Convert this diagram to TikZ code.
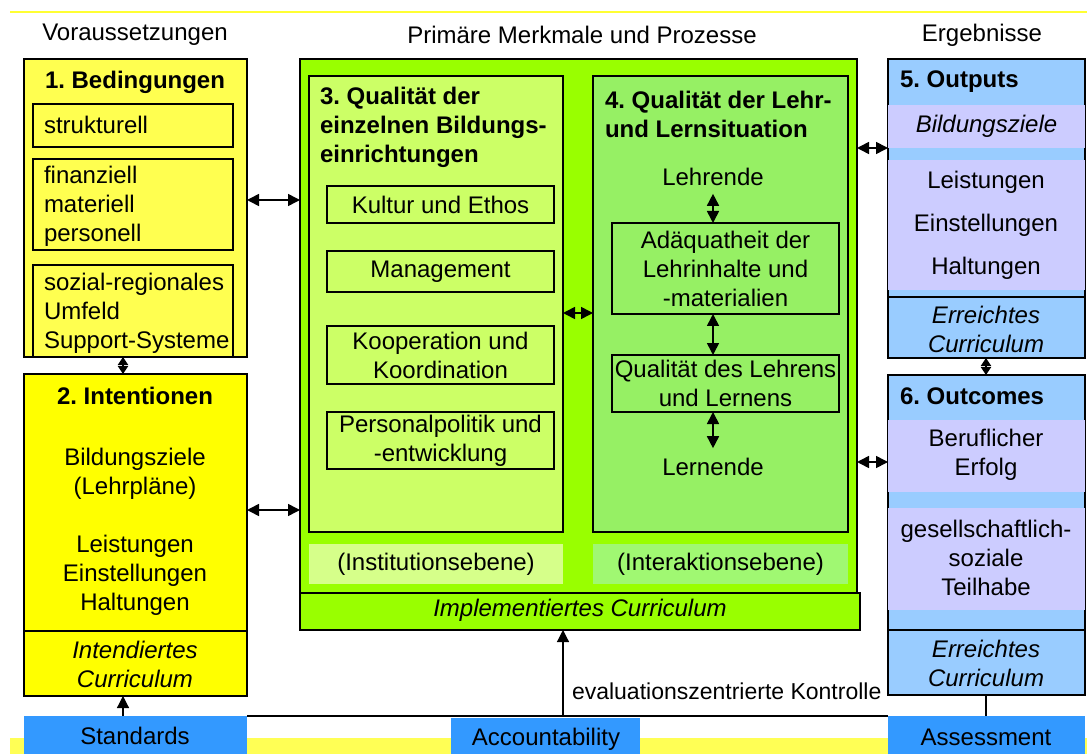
\documentclass[tikz,border=0pt]{standalone}
\usepackage{fontspec}
\setmainfont{Liberation Sans}
\frenchspacing
\usetikzlibrary{fit,arrows.meta}
\definecolor{yA}{HTML}{FFFF50}
\definecolor{yB}{HTML}{FFFF00}
\definecolor{gO}{HTML}{99FF00}
\definecolor{gC}{HTML}{CCFF66}
\definecolor{gCL}{HTML}{D6FF8A}
\definecolor{gD}{HTML}{96F064}
\definecolor{gDL}{HTML}{A0F872}
\definecolor{bL}{HTML}{99CCFF}
\definecolor{lav}{HTML}{CCCCFF}
\definecolor{bD}{HTML}{3399FF}
\definecolor{yLine}{HTML}{FFFF33}
\definecolor{yBand}{HTML}{FFFF55}
\begin{document}
\begin{tikzpicture}[x=0.5pt,y=-0.5pt,
  every node/.style={inner sep=0pt, outer sep=0pt},
  txt/.style={font=\fontsize{12}{14.5}\selectfont, align=center},
  bft/.style={font=\bfseries\fontsize{12}{14.5}\selectfont, align=left},
  itt/.style={font=\itshape\fontsize{12}{14.5}\selectfont, align=center},
  box/.style={draw=black, line width=0.8pt},
  plain/.style={line width=0.6pt},
  dbl/.style={{Triangle[length=6pt,width=6pt]}-{Triangle[length=6pt,width=6pt]}, line width=0.8pt},
  dbls/.style={{Triangle[length=4pt,width=5pt]}-{Triangle[length=4pt,width=5pt]}, line width=1.2pt},
  arr/.style={-{Triangle[length=6pt,width=6pt]}, line width=0.6pt}]
\useasboundingbox (0,0) rectangle (1087,754);
% helper coordinates
\coordinate (x123) at (123,0);
\coordinate (x713) at (713,0);
\coordinate (x986) at (986,0);
\coordinate (y200) at (0,200);
\coordinate (y510) at (0,510);
\coordinate (y313) at (0,313);
\coordinate (y148) at (0,148);
\coordinate (y462) at (0,462);
\coordinate (y631) at (0,631);
\coordinate (y297) at (0,297);
\coordinate (y630) at (0,630);
% decorative bands
\node[fill=yLine, fit={(10,11)(1087,13)}] (topline) {};
\node[fill=yBand, fit={(10,738)(1087,754)}] (bband) {};
% headers
\node[txt] (h1) at (135,35) {Voraussetzungen};
\node[txt] (h2) at (582,35) {Primäre Merkmale und Prozesse};
\node[txt] (h3) at (982,35) {Ergebnisse};
% Box 1
\node[box, fill=yA, fit={(24,59)(247,357)}] (b1) {};
\node[bft] (b1t) at (135,82) {1. Bedingungen};
\node[box, fill=yA, fit={(33,104)(233,147)}] (b1a) {};
\node[txt, anchor=west] (b1at) at (44,125) {strukturell};
\node[box, fill=yA, fit={(33,159)(233,250)}] (b1b) {};
\node[txt, align=left, anchor=west] (b1bt) at (44,206) {finanziell\\materiell\\personell};
\node[box, fill=yA, fit={(33,265)(233,357)}] (b1c) {};
\node[txt, align=left, anchor=west] (b1ct) at (44,313) {sozial-regionales\\Umfeld\\Support-Systeme};
% Box 2
\node[box, fill=yB, fit={(24,374)(247,696)}] (b2) {};
\draw[box] (b2.west |- y631) -- (b2.east |- y631);
\node[bft] (b2t) at (135,396) {2. Intentionen};
\node[txt] (b2x) at (135,474) {Bildungsziele\\(Lehrpläne)};
\node[txt] (b2y) at (135,575) {Leistungen\\Einstellungen\\Haltungen};
\node[itt] (b2z) at (135,664) {Intendiertes\\Curriculum};
\draw[dbls] (b1.south -| x123) -- (b2.north -| x123);
% Standards
\node[fill=bD, fit={(24,716)(247,754)}] (std) {};
\node[txt] (stdt) at (135,736) {Standards};
\draw[arr] (std.north -| x123) -- (b2.south -| x123);
% Green outer
\node[box, fill=gO, fit={(300,59)(857,630)}] (green) {};
\node[box, fill=gO, fit={(300,593)(860,630)}] (impl) {};
\node[itt] (implt) at (580,610) {Implementiertes Curriculum};
% Box 3
\node[box, fill=gC, fit={(309,76)(563,532)}] (b3) {};
\node[bft, anchor=west] (b3t) at (320,127) {3. Qualität der\\einzelnen Bildungs-\\einrichtungen};
\node[box, fill=gC, fit={(327,186)(554,223)}] (k1) {};
\node[txt] at (k1) {Kultur und Ethos};
\node[box, fill=gC, fit={(327,251)(554,292)}] (k2) {};
\node[txt] at (k2) {Management};
\node[box, fill=gC, fit={(327,326)(554,384)}] (k3) {};
\node[txt] at (k3) {Kooperation und\\Koordination};
\node[box, fill=gC, fit={(327,412)(554,469)}] (k4) {};
\node[txt] at (k4) {Personalpolitik und\\-entwicklung};
\node[fill=gCL, fit={(309,544)(563,584)}] (inst) {};
\node[txt] at (inst) {(Institutionsebene)};
% Box 4
\node[box, fill=gD, fit={(593,76)(848,532)}] (b4) {};
\node[bft, anchor=west] (b4t) at (605,114) {4. Qualität der Lehr-\\und Lernsituation};
\node[txt] (lehr) at (713,177) {Lehrende};
\node[box, fill=gD, fit={(612,223)(839,314)}] (adq) {};
\node[txt] at (adq) {Adäquatheit der\\Lehrinhalte und\\-materialien};
\node[box, fill=gD, fit={(612,355)(839,412)}] (qual) {};
\node[txt] at (qual) {Qualität des Lehrens\\und Lernens};
\node[txt] (lern) at (713,467) {Lernende};
\node[fill=gDL, fit={(593,544)(848,584)}] (inter) {};
\node[txt] at (inter) {(Interaktionsebene)};
\draw[dbl, shorten <=4pt] (lehr.south) -- (adq.north -| x713);
\draw[dbl] (adq.south -| x713) -- (qual.north -| x713);
\draw[dbl, shorten >=5pt] (qual.south -| x713) -- (lern.north);
% horizontal connectors
\draw[dbl] (b1.east |- y200) -- (green.west |- y200);
\draw[dbl] (b2.east |- y510) -- (green.west |- y510);
\draw[dbl] (b3.east |- y313) -- (b4.west |- y313);
% Box 5
\node[box, fill=bL, fit={(888,59)(1085,358)}] (b5) {};
\node[bft, anchor=west] (b5t) at (900,82) {5. Outputs};
\node[fill=lav, fit={(888,105)(1085,148)}] (bz) {};
\node[itt] at (bz) {Bildungsziele};
\node[fill=lav, fit={(888,160)(1085,290)}] (lei) {};
\node[txt] (l1) at (986,182) {Leistungen};
\node[txt] (l2) at (986,225) {Einstellungen};
\node[txt] (l3) at (986,268) {Haltungen};
\draw[box] (b5.west |- y297) -- (b5.east |- y297);
\node[itt] (b5e) at (986,329) {Erreichtes\\Curriculum};
% Box 6
\node[box, fill=bL, fit={(888,375)(1085,695)}] (b6) {};
\node[bft, anchor=west] (b6t) at (900,396) {6. Outcomes};
\node[fill=lav, fit={(888,420)(1085,492)}] (ber) {};
\node[txt] at (986,455) {Beruflicher\\Erfolg};
\node[fill=lav, fit={(888,508)(1085,610)}] (ges) {};
\node[txt] at (986,558) {gesellschaftlich-\\soziale\\Teilhabe};
\draw[box] (b6.west |- y630) -- (b6.east |- y630);
\node[itt] (b6e) at (986,663) {Erreichtes\\Curriculum};
\draw[dbls] (b5.south -| x986) -- (b6.north -| x986);
\draw[dbl] (green.east |- y148) -- (b5.west |- y148);
\draw[dbl] (green.east |- y462) -- (b6.west |- y462);
% bottom row
\node[fill=bD, fit={(451,718)(640,754)}] (acc) {};
\node[txt] at (546,739) {Accountability};
\node[fill=bD, fit={(888,716)(1085,754)}] (ass) {};
\node[txt] at (986,737) {Assessment};
\draw[plain] (std.north east) -- (ass.north west);
\draw[plain] (b6.south -| x986) -- (ass.north -| x986);
\coordinate (ev) at (563,716);
\draw[arr] (ev) -- (impl.south -| ev);
\node[font=\fontsize{11.5}{14}\selectfont, anchor=west] (evl) at (572,691) {evaluationszentrierte Kontrolle};
\end{tikzpicture}
\end{document}
